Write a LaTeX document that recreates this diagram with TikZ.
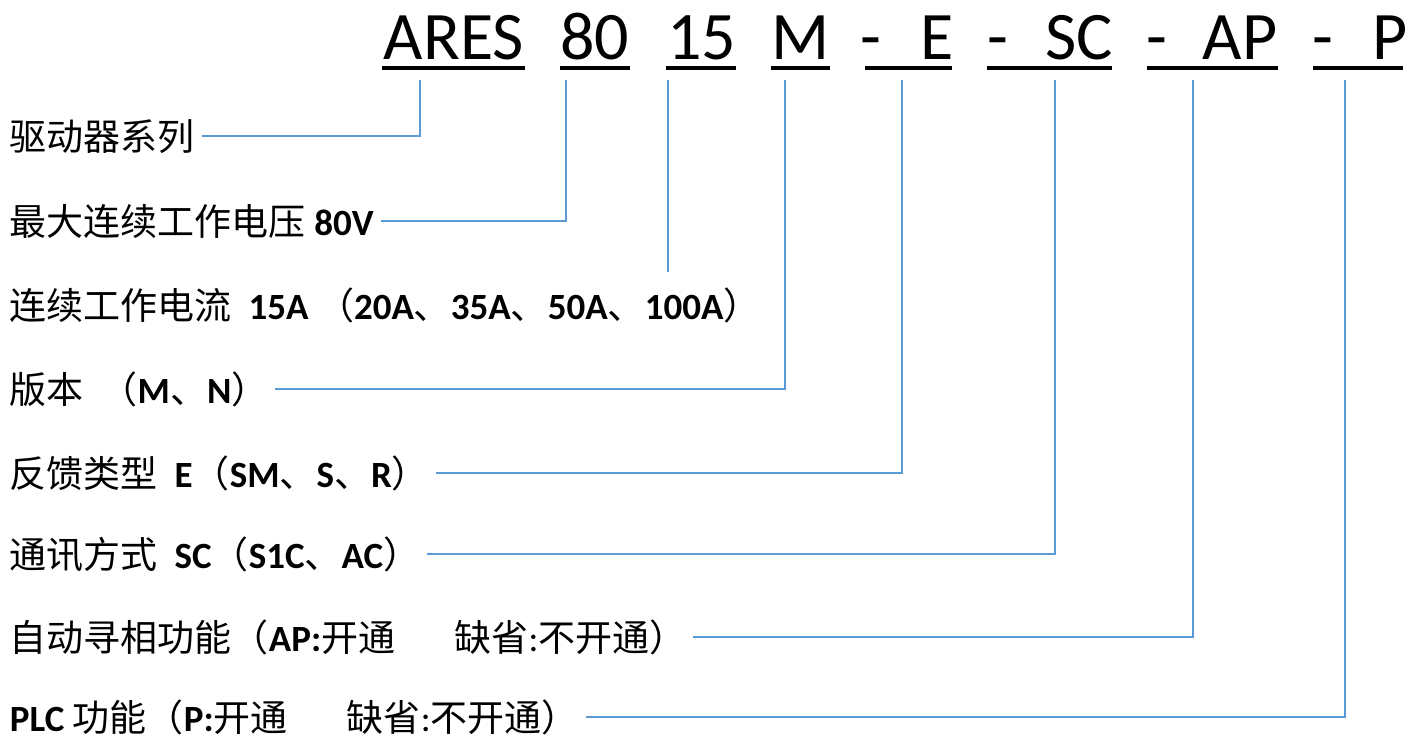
\documentclass[tikz,border=0pt]{standalone}
\usepackage{fontspec}
\setmainfont{Carlito}
\newfontfamily\cjk{Noto Sans CJK SC}
\definecolor{linkblue}{HTML}{5B9BD5}
\tikzset{
  code/.style={anchor=base,inner sep=0pt,font=\fontsize{34}{40}\selectfont},
  desc/.style={anchor=west,inner sep=0pt,outer xsep=3.5pt,text height=16.3pt,text depth=2.2pt,font=\fontsize{18.5}{22}\selectfont},
  uline/.style={line width=2pt},
  link/.style={linkblue,line width=0.8pt}
}
\begin{document}
\begin{tikzpicture}[x=0.5pt,y=-0.5pt]
        \useasboundingbox (0,0) rectangle (1421,740);
        % the type code
        \node[code] (ares) at (454,59) {ARES};
        \node[code] (volt) at (594.5,59) {80};
        \node[code] (amp) at (701.5,59) {15};
        \node[code] (ver) at (801,59) {M};
        \node[code] (d1) at (871,59) {-};
        \node[code] (enc) at (937.5,59) {E};
        \node[code] (d2) at (998,59) {-};
        \node[code] (com) at (1079,59) {SC};
        \node[code] (d3) at (1157,59) {-};
        \node[code] (phase) at (1240,59) {AP};
        \node[code] (d4) at (1323,59) {-};
        \node[code] (plc) at (1390.5,59) {P};
        % underlines
        \foreach \a/\b in {382/525,560/630,666/736,771/830,865/952,987/1112,1147/1278,1313/1403}
          \draw[uline] (\a,68) -- (\b,68);
        % tops of the leader lines
        \coordinate (tares) at (420,80);
        \coordinate (tvolt) at (566,80);
        \coordinate (tamp) at (668,80);
        \coordinate (tver) at (785,80);
        \coordinate (tenc) at (902,80);
        \coordinate (tcom) at (1055,80);
        \coordinate (tphase) at (1193,80);
        \coordinate (tplc) at (1345,80);
        \coordinate (eamp) at (668,272);
        % the descriptions
        \node[desc] (lares) at (3,136) {{\cjk 驱动器系列}};
        \node[desc] (lvolt) at (3,221) {{\cjk 最大连续工作电压} \textbf{80V}};
        \node[desc] (lamp) at (3,305) {{\cjk 连续工作电流}\ \ \textbf{15A}\ {\cjk （}\textbf{20A}{\cjk 、}\textbf{35A}{\cjk 、}\textbf{50A}{\cjk 、}\textbf{100A}{\cjk ）}};
        \node[desc] (lver) at (3,389) {{\cjk 版本}\ \ {\cjk （}\textbf{M}{\cjk 、}\textbf{N}{\cjk ）}};
        \node[desc] (lenc) at (3,473) {{\cjk 反馈类型}\ \ \textbf{E}{\cjk （}\textbf{SM}{\cjk 、}\textbf{S}{\cjk 、}\textbf{R}{\cjk ）}};
        \node[desc] (lcom) at (3,554) {{\cjk 通讯方式}\ \ \textbf{SC}{\cjk （}\textbf{S1C}{\cjk 、}\textbf{AC}{\cjk ）}};
        \node[desc] (lphase) at (3,637) {{\cjk 自动寻相功能（}\textbf{AP:}{\cjk 开通}\hspace{1.6em}{\cjk 缺省}:{\cjk 不开通）}};
        \node[desc] (lplc) at (3,717) {\textbf{PLC} {\cjk 功能（}\textbf{P:}{\cjk 开通}\hspace{1.6em}{\cjk 缺省}:{\cjk 不开通）}};
        % leader lines
        \draw[link] (tares) |- (lares);
        \draw[link] (tvolt) |- (lvolt);
        \draw[link] (tamp) -- (eamp);
        \draw[link] (tver) |- (lver);
        \draw[link] (tenc) |- (lenc);
        \draw[link] (tcom) |- (lcom);
        \draw[link] (tphase) |- (lphase);
        \draw[link] (tplc) |- (lplc);
\end{tikzpicture}
\end{document}
